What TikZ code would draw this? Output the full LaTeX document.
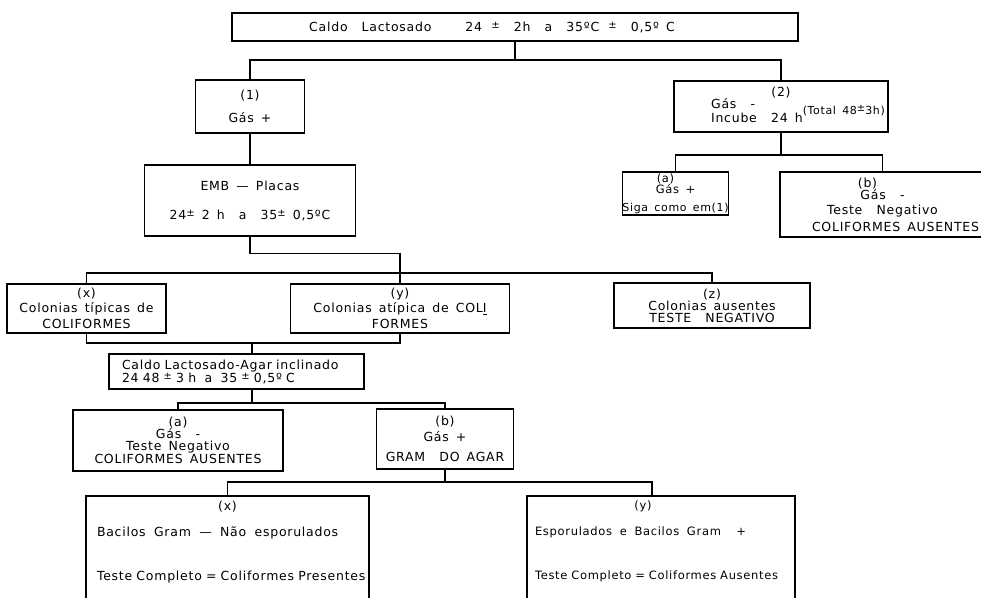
\documentclass[tikz,border=0pt]{standalone}
\usepackage{fontspec}
\setmainfont{DejaVu Sans}[LetterSpace=6,WordSpace=1.5]
\usetikzlibrary{positioning}

\newcommand{\pmr}{\raisebox{3pt}{\fontsize{10}{10}\selectfont ±}}

\begin{document}
\begin{tikzpicture}[x=1pt, y=-1pt,
  box/.style={draw, line width=1.2pt, inner sep=0pt, align=center,
    font=\fontsize{12.5}{13}\selectfont},
  link/.style={line width=1.2pt}]
  \useasboundingbox (0,0) rectangle (981,597);
  \clip (0,0) rectangle (981,597);

  % first stage
  \node[box, minimum width=566pt, minimum height=28pt] (lact) at (515,27)
    {Caldo\hspace{14pt}Lactosado\hspace{34pt}24\ \,\pmr\ \ 2h\ \ a\ \ 35ºC\ \,\pmr\ \ 0,5º\ C\hspace*{46pt}};
  \node[box, minimum width=109pt, minimum height=53pt] (gas1) at (250,106.5)
    {(1)\\[10pt]Gás +};
  \node[box, minimum width=214pt, minimum height=51pt] (gas2) at (781,106.5)
    {(2)\\\hspace*{34pt}\begin{tabular}[b]{@{}l@{}}Gás\ \ -\\Incube\ \ 24 h\end{tabular}\raisebox{8pt}{\fontsize{11}{11}\selectfont(Total 48\pmr 3h)}};
  \node[box, minimum width=105pt, minimum height=43pt, font=\fontsize{11.5}{11}\selectfont] (sigaa) at (675.5,193.5)
    {(a)\hspace*{20pt}\\Gás +\hspace*{20pt}\\[7pt]{\fontsize{11}{12}\selectfont Siga como em(1)}};
  \node[box, minimum width=205pt, minimum height=65pt] (ausb) at (882.5,204.5)
    {(b)\hspace*{30pt}\\[-1pt]Gás\ \ -\hspace*{30pt}\\[2pt]Teste\ \ Negativo\hspace*{120pt}\\[4pt]\hspace*{26pt}COLIFORMES AUSENTES};

  % EMB plates
  \node[box, minimum width=211pt, minimum height=71pt] (emb) at (250,200.5)
    {EMB — Placas\\[16pt]24\pmr\ 2 h\ \ a\ \ 35\pmr\ 0,5ºC};
  \node[box, minimum width=159pt, minimum height=49pt] (colx) at (86.5,308.5)
    {(x)\\[2pt]Colonias típicas de\\[3pt]COLIFORMES};
  \node[box, minimum width=219pt, minimum height=49pt] (coly) at (400,308.5)
    {(y)\\[2pt]Colonias atípica de COL\underline{I}\\[3pt]FORMES};
  \node[box, minimum width=196pt, minimum height=45pt] (colz) at (712,305.5)
    {(z)\\[-1pt]Colonias ausentes\\[-1pt]TESTE\ \ NEGATIVO};

  % confirmation
  \node[box, minimum width=255pt, minimum height=35pt, text width=229pt, align=left] (agar) at (236.5,371.5)
    {Caldo Lactosado-Agar inclinado\\24 48 \pmr\ 3 h\ \ a\ \ 35 \pmr\ 0,5º C};
  \node[box, minimum width=210pt, minimum height=61pt] (gneg) at (178,440.5)
    {(a)\\[-1pt]Gás\ \ -\\[-1pt]Teste Negativo\\COLIFORMES AUSENTES};
  \node[box, minimum width=137pt, minimum height=60pt] (gpos) at (445,439)
    {(b)\\[3pt]Gás +\\[7pt]GRAM\ \ DO\ AGAR};

  % completed test
  \node[box, minimum width=283pt, minimum height=104pt, text width=261pt, align=left] (bacx) at (227.5,548)
    {\makebox[261pt]{(x)}\\[13pt]\mbox{Bacilos\ \ Gram\ \ —\ \ Não\ \ esporulados}\\[31pt]\mbox{Teste Completo = Coliformes Presentes}\\[2pt]\mbox{}};
  \node[box, minimum width=268pt, minimum height=104pt, text width=252pt, align=left,
    font=\fontsize{11.5}{13}\selectfont] (bacy) at (661,548)
    {\makebox[252pt]{(y)\hspace*{36pt}}\\[13pt]\mbox{Esporulados\ \ e\ \ Bacilos\ \ Gram\ \ \ \ +}\\[31pt]\mbox{Teste Completo = Coliformes Ausentes}\\[2pt]\mbox{}};

  % connectors
  \coordinate (j1) at (515,60);
  \coordinate (j2) at (781,155);
  \coordinate (j3) at (400,273);
  \coordinate (j4) at (252,343);
  \coordinate (j5) at (252,403);
  \coordinate (j6) at (445,482);
  \draw[link] (lact.south) -- (j1);
  \draw[link] (gas1.north) |- (j1) -| (gas2.north);
  \draw[link] (gas1.south) -- (emb.north);
  \draw[link] (gas2.south) -- (j2);
  \draw[link] (sigaa.north) |- (j2) -| (ausb.north);
  \draw[link] (emb.south) -- ++(0,17) -| (coly.north);
  \draw[link] (colx.north) |- (j3) -| (colz.north);
  \draw[link] (colx.south) |- (j4) -| (coly.south);
  \draw[link] (j4) -- (j4 |- agar.north);
  \draw[link] (j4 |- agar.south) -- (j5);
  \draw[link] (gneg.north) |- (j5) -| (gpos.north);
  \draw[link] (gpos.south) -- (j6);
  \draw[link] (bacx.north) |- (j6) -| ([xshift=-9pt]bacy.north);
\end{tikzpicture}
\end{document}
